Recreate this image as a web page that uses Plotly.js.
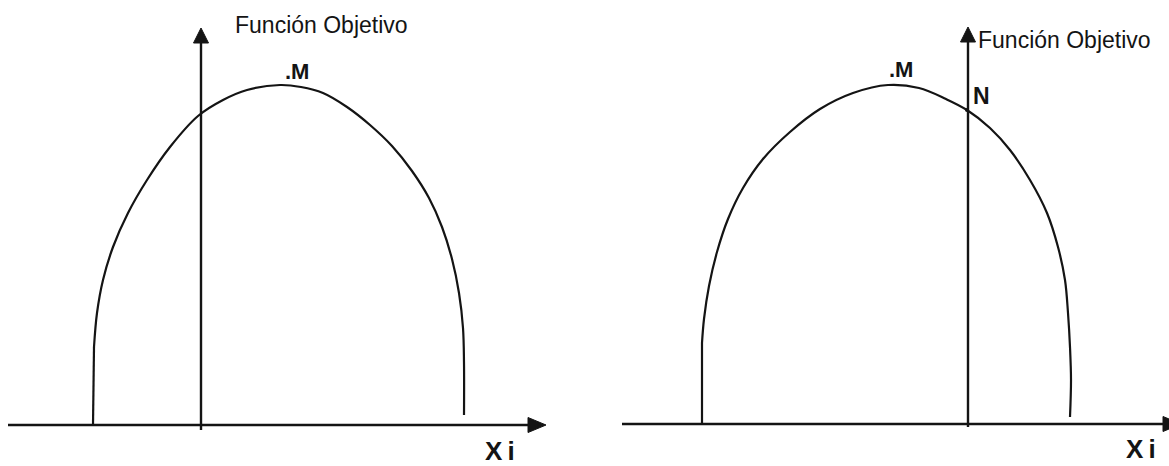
<!DOCTYPE html>
<html>
<head>
<meta charset="utf-8">
<script src="https://cdn.plot.ly/plotly-3.0.1.min.js"></script>
<style>html,body{margin:0;padding:0;background:#fff;}#chart{width:1169px;height:466px;}</style>
</head>
<body>
<div id="chart"></div>
<script>
// ---- Data (origin = where the axes cross, 1 unit = 1 px) ----
// Left panel: objective function with maximum M to the right of the Y axis
var leftCurveX = [-107, -104, -98, -88, -73, -54, -31, -3, 22, 46, 79, 100, 122, 146, 169, 191, 211, 228, 241, 251, 258, 262, 263, 263];
var leftCurveY = [78, 112, 145, 178, 212, 245, 278, 309, 325, 335, 340, 338, 332, 318, 300, 279, 254, 227, 198, 166, 132, 97, 62, 10];
var leftStubX = [-108, -107];
var leftStubY = [0, 78];
// Right panel: constrained case, optimum N on the Y axis
var rightCurveX = [-266, -264, -259, -251, -240, -225, -205, -178, -148, -115, -80, -49, -22, -1, 22, 42, 62, 79, 90, 97, 100, 102, 103, 102];
var rightCurveY = [81, 105, 138, 172, 205, 236, 265, 292, 315, 331, 339, 336, 325, 314, 296, 274, 244, 211, 177, 144, 111, 77, 44, 7];
var rightStubX = [-266, -266];
var rightStubY = [0, 81];
var pointNX = [-1];
var pointNY = [314];

// Labels
var yTitle = "Función Objetivo";
var xTitle = "X\u2009i";
var labelM = ".M";
var labelN = "N";

var ink = "#141414";
var fontFam = "Liberation Sans, Arial, sans-serif";

function curve(x, y, xa, ya) {
  return {x: x, y: y, xaxis: xa, yaxis: ya, type: "scatter", mode: "lines",
          line: {color: ink, width: 2.2, shape: "spline", smoothing: 1},
          hoverinfo: "skip", showlegend: false};
}
function stub(x, y, xa, ya) {
  return {x: x, y: y, xaxis: xa, yaxis: ya, type: "scatter", mode: "lines",
          line: {color: ink, width: 2.2}, hoverinfo: "skip", showlegend: false};
}

var traces = [
  curve(leftCurveX, leftCurveY, "x", "y"),
  stub(leftStubX, leftStubY, "x", "y"),
  curve(rightCurveX, rightCurveY, "x2", "y2"),
  stub(rightStubX, rightStubY, "x2", "y2"),
  {x: pointNX, y: pointNY, xaxis: "x2", yaxis: "y2", type: "scatter", mode: "markers",
   marker: {color: ink, size: 4}, hoverinfo: "skip", showlegend: false}
];

function axisLine(xr, yr, x0, y0, x1, y1) {
  return {type: "line", xref: xr, yref: yr, x0: x0, y0: y0, x1: x1, y1: y1,
          line: {color: ink, width: 2.4}};
}
function head(xr, yr, path) {
  return {type: "path", xref: xr, yref: yr, path: path, fillcolor: ink, line: {color: ink, width: 1}};
}

var shapes = [
  // left panel axes
  axisLine("x", "y", -193, 0, 332, 0),
  head("x", "y", "M 327 7.5 L 345 0 L 327 -7.5 Z"),
  axisLine("x", "y", 0, -5, 0, 385),
  head("x", "y", "M -7.5 382 L 0 397 L 7.5 382 Z"),
  // right panel axes
  axisLine("x2", "y2", -346, 0, 200, 0),
  head("x2", "y2", "M 195 7.5 L 213 0 L 195 -7.5 Z"),
  axisLine("x2", "y2", 0, -3, 0, 385),
  head("x2", "y2", "M -7.5 382 L 0 397 L 7.5 382 Z")
];

function label(xr, yr, x, y, text, size, bold, xanchor) {
  return {xref: xr, yref: yr, x: x, y: y, text: bold ? "<b>" + text + "</b>" : text,
          showarrow: false, xanchor: xanchor, yanchor: "middle",
          font: {family: fontFam, size: size, color: ink}};
}

var annotations = [
  label("x", "y", 32, 400, yTitle, 23, false, "left"),
  label("x", "y", 82, 354, labelM, 22, true, "left"),
  label("x", "y", 299, -26, xTitle, 26, true, "center"),
  label("x2", "y2", 8, 384, yTitle, 23, false, "left"),
  label("x2", "y2", -81, 355, labelM, 22, true, "left"),
  label("x2", "y2", 13, 328, labelN, 23, true, "center"),
  label("x2", "y2", 173, -25, xTitle, 26, true, "center")
];

function hiddenAxis(domain, range, anchor) {
  return {domain: domain, range: range, anchor: anchor, visible: false, fixedrange: true,
          showgrid: false, zeroline: false};
}

var layout = {
  width: 1169, height: 466,
  margin: {l: 0, r: 0, t: 0, b: 0, pad: 0},
  paper_bgcolor: "#ffffff", plot_bgcolor: "rgba(0,0,0,0)",
  showlegend: false,
  xaxis: hiddenAxis([0, 584 / 1169], [-201, 383], "y"),
  yaxis: hiddenAxis([0, 1], [-41, 425], "x"),
  xaxis2: hiddenAxis([584 / 1169, 1], [-384, 201], "y2"),
  yaxis2: hiddenAxis([0, 1], [-42, 424], "x2"),
  shapes: shapes,
  annotations: annotations
};

Plotly.newPlot("chart", traces, layout, {staticPlot: true, displayModeBar: false});
</script>
</body>
</html>
